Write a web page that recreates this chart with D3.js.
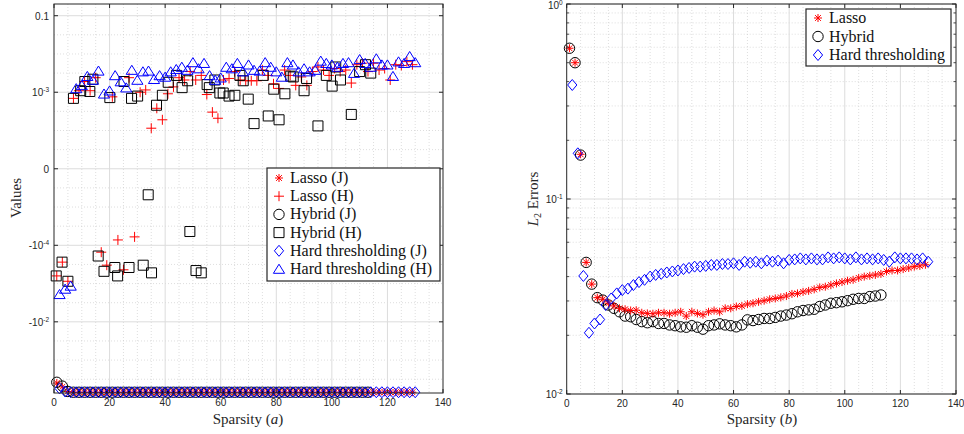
<!DOCTYPE html>
<html><head><meta charset="utf-8">
<script src="https://cdn.jsdelivr.net/npm/d3@7"></script>
<style>html,body{margin:0;padding:0;background:#fff;}svg{display:block;}</style>
</head><body><svg id="c" width="964" height="434"></svg>
<script>
// ---------------- DATA ----------------
const xTicks = [0,20,40,60,80,100,120,140];
// Left panel: values in the chart's own axis units (ticks at 2,1,0,-1,-2)
const leftTickPos = [2,1,0,-1,-2];
const leftTickLabels = [["0.1",""],["10","-3"],["0",""],["-10","-4"],["-10","-2"]];
const rightTicks = [0.01,0.1,1];
const rightTickLabels = [["10","-2"],["10","-1"],["10","0"]];

const sparsityOdd = [1,3,5,7,9,11,13,15,17,19,21,23,25,27,29,31,33,35,37,39,41,43,45,47,49,51,53,55,57,59,61,63,65,67,69,71,73,75,77,79,81,83,85,87,89,91,93,95,97,99,101,103,105,107,109,111,113,115,117,119,121,123,125,127,129];
const sparsityEven = [2,4,6,8,10,12,14,16,18,20,22,24,26,28,30,32,34,36,38,40,42,44,46,48,50,52,54,56,58,60,62,64,66,68,70,72,74,76,78,80,82,84,86,88,90,92,94,96,98,100,102,104,106,108,110,112,114,116,118,120,122,124,126,128,130];
const sparsityHybrid = [1,3,5,7,9,11,13,15,17,19,21,23,25,27,29,31,33,35,37,39,41,43,45,47,49,51,53,55,57,59,61,63,65,67,69,71,73,75,77,79,81,83,85,87,89,91,93,95,97,99,101,103,105,107,109,111,113];

// (a) values
const lassoJ = [-2.80,-2.85,-2.91,-2.92,-2.92,-2.92,-2.92,-2.92,-2.92,-2.92,-2.92,-2.92,-2.92,-2.92,-2.92,-2.92,-2.92,-2.92,-2.92,-2.92,-2.92,-2.92,-2.92,-2.92,-2.92,-2.92,-2.92,-2.92,-2.92,-2.92,-2.92,-2.92,-2.92,-2.92,-2.92,-2.92,-2.92,-2.92,-2.92,-2.92,-2.92,-2.92,-2.92,-2.92,-2.92,-2.92,-2.92,-2.92,-2.92,-2.92,-2.92,-2.92,-2.92,-2.92,-2.92,-2.92,-2.92,-2.92,-2.92,-2.92,-2.92,-2.92,-2.92,-2.92,-2.92];
const lassoH = [-1.40,-1.22,-1.47,0.92,1.02,1.14,1.02,1.19,-1.09,-1.26,0.94,-0.93,-1.32,1.19,-0.89,1.00,1.03,0.53,0.79,0.64,0.98,1.07,1.19,1.16,1.27,1.16,1.22,0.97,0.74,0.66,1.16,1.18,1.27,1.16,1.15,1.15,1.15,1.29,1.22,1.11,1.05,1.29,1.22,1.09,1.20,1.09,1.27,1.33,1.29,1.22,1.31,1.27,1.29,1.12,1.36,1.38,1.27,1.38,1.29,1.31,1.16,1.36,1.35,1.40,1.36];
const hybridJ = [-2.79,-2.84,-2.91,-2.92,-2.92,-2.92,-2.92,-2.92,-2.92,-2.92,-2.92,-2.92,-2.92,-2.92,-2.92,-2.92,-2.92,-2.92,-2.92,-2.92,-2.92,-2.92,-2.92,-2.92,-2.92,-2.92,-2.92,-2.92,-2.92,-2.92,-2.92,-2.92,-2.92,-2.92,-2.92,-2.92,-2.92,-2.92,-2.92,-2.92,-2.92,-2.92,-2.92,-2.92,-2.92,-2.92,-2.92,-2.92,-2.92,-2.92,-2.92,-2.92,-2.92,-2.92,-2.92,-2.92,-2.92];
const hybridHx = [0.8,2.9,5.0,7.0,9.6,11.1,12.9,14.0,15.9,18.0,20.1,21.9,22.9,25.2,27.0,27.9,30.1,32.1,33.9,35.1,36.9,39.0,41.1,44.1,46.1,48.1,48.9,51.1,53.0,55.1,55.9,57.9,59.7,60.9,63.0,65.1,66.9,68.1,69.9,72.0,75.3,77.1,79.1,81.0,83.1,85.2,86.1,90.0,90.9,95.0,98.0,100.1,101.4,103.1,107.0,110.0,112.1,114.0];
const hybridH = [-1.40,-1.22,-1.47,0.92,1.02,1.14,1.01,1.17,-1.14,-1.34,0.93,-1.29,-1.40,1.14,-1.29,0.92,0.95,-1.26,-0.34,-1.36,0.83,0.96,1.13,1.22,1.06,1.15,-0.82,-1.33,-1.36,1.10,1.06,1.16,0.99,0.99,0.95,0.96,1.22,1.15,0.91,0.59,1.22,0.69,1.04,0.64,0.98,1.21,1.20,1.02,1.18,0.56,1.22,1.08,1.33,1.16,0.71,1.27,1.36,1.25];
const hardJ = [-2.87,-2.91,-2.92,-2.92,-2.92,-2.92,-2.92,-2.92,-2.92,-2.92,-2.92,-2.92,-2.92,-2.92,-2.92,-2.92,-2.92,-2.92,-2.92,-2.92,-2.92,-2.92,-2.92,-2.92,-2.92,-2.92,-2.92,-2.92,-2.92,-2.92,-2.92,-2.92,-2.92,-2.92,-2.92,-2.92,-2.92,-2.92,-2.92,-2.92,-2.92,-2.92,-2.92,-2.92,-2.92,-2.92,-2.92,-2.92,-2.92,-2.92,-2.92,-2.92,-2.92,-2.92,-2.92,-2.92,-2.92,-2.92,-2.92,-2.92,-2.92,-2.92,-2.92,-2.92,-2.92];
const hardH = [-1.64,-1.57,-1.53,1.05,1.09,1.21,1.16,1.28,0.98,1.02,1.22,1.14,1.06,1.29,1.16,1.27,1.28,1.17,1.22,1.20,1.27,1.30,1.33,1.29,1.39,1.31,1.38,1.22,1.16,1.19,1.33,1.31,1.38,1.27,1.36,1.29,1.28,1.39,1.33,1.27,1.20,1.39,1.36,1.27,1.31,1.27,1.29,1.41,1.38,1.36,1.33,1.38,1.39,1.25,1.43,1.38,1.33,1.44,1.36,1.36,1.21,1.40,1.38,1.47,1.39];

// (b) L2 errors
const lassoErr = [0.593,0.500,0.1695,0.0473,0.0366,0.0312,0.0306,0.0292,0.0283,0.0275,0.0272,0.0268,0.0269,0.0261,0.0259,0.0258,0.0261,0.0261,0.0258,0.0261,0.0264,0.0251,0.0264,0.0259,0.0255,0.0264,0.0268,0.0264,0.0275,0.0275,0.0281,0.0283,0.0289,0.0292,0.0297,0.0301,0.0306,0.0309,0.0313,0.0318,0.0326,0.0328,0.0334,0.0338,0.0344,0.0352,0.0355,0.0362,0.0369,0.0375,0.0381,0.0385,0.0394,0.0400,0.0404,0.0408,0.0413,0.0425,0.0430,0.0430,0.0437,0.0443,0.0450,0.0454,0.0460];
const hybridErr = [0.593,0.500,0.168,0.0473,0.0366,0.0312,0.0303,0.0286,0.0275,0.0264,0.0251,0.0249,0.0241,0.0235,0.0232,0.0235,0.0230,0.0230,0.0226,0.0224,0.0221,0.0220,0.0224,0.0220,0.0215,0.0224,0.0226,0.0229,0.0226,0.0224,0.0221,0.0226,0.0240,0.0238,0.0241,0.0244,0.0244,0.0247,0.0251,0.0254,0.0258,0.0264,0.0268,0.0270,0.0272,0.0281,0.0286,0.0292,0.0294,0.0297,0.0301,0.0306,0.0309,0.0309,0.0316,0.0318,0.0322];
const hardErr = [0.3843,0.1715,0.0403,0.0206,0.0230,0.0241,0.0286,0.0309,0.0328,0.0341,0.0347,0.0362,0.0375,0.0385,0.0400,0.0408,0.0413,0.0420,0.0425,0.0430,0.0437,0.0443,0.0450,0.0450,0.0454,0.0459,0.0459,0.0464,0.0464,0.0468,0.0459,0.0477,0.0471,0.0477,0.0468,0.0483,0.0477,0.0483,0.0468,0.0487,0.0490,0.0496,0.0490,0.0496,0.0490,0.0490,0.0502,0.0496,0.0502,0.0496,0.0490,0.0502,0.0490,0.0496,0.0490,0.0496,0.0487,0.0477,0.0502,0.0496,0.0496,0.0496,0.0490,0.0496,0.0477];

// ---------------- DRAWING ----------------
const svg = d3.select("#c");
const AX = "#262626", MAJ = "#dcdcdc", MIN = "#c8c8c8";
const RED = "#ff0000", BLK = "#000000", BLU = "#0000ff";
const sans = "Liberation Sans, Arial, sans-serif";
const serif = "Liberation Serif, Times New Roman, serif";
const sym = {
  star: "M-4,0H4M0,-4V4M-2.9,-2.9L2.9,2.9M-2.9,2.9L2.9,-2.9",
  plus: "M-5,0H5M0,-5V5",
  square: "M-5,-5H5V5H-5Z",
  diamond: "M0,-5.5L4.6,0L0,5.5L-4.6,0Z",
  triangle: "M0,-4.8L5.6,4.3L-5.6,4.3Z"
};
function marker(g, type, color, x, y) {
  if (type === "circle") {
    g.append("circle").attr("cx", x).attr("cy", y).attr("r", 5.2)
      .attr("fill", "none").attr("stroke", color).attr("stroke-width", 1);
  } else {
    g.append("path").attr("d", sym[type]).attr("transform", `translate(${x},${y})`)
      .attr("fill", "none").attr("stroke", color).attr("stroke-width", 1);
  }
}
function series(g, xs, ys, xv, yv, type, color) {
  const gg = g.append("g");
  xv.forEach((xx, i) => marker(gg, type, color, xs(xx), ys(yv[i])));
}
function supLabel(g, x, y, parts, anchor) {
  const t = g.append("text").attr("x", x).attr("y", y).attr("text-anchor", anchor)
    .attr("font-family", sans).attr("font-size", 10).attr("fill", AX);
  t.append("tspan").text(parts[0]);
  if (parts[1]) t.append("tspan").attr("dy", -3.6).attr("font-size", 6.5).text(parts[1]);
}
function frame(g, xs, ys, x0, x1, y0, y1, yMinor, yMajor) {
  const xm = d3.range(5, 140, 5).filter(v => v % 20 !== 0);
  g.selectAll(null).data(xm).join("line").attr("x1", d => xs(d)).attr("x2", d => xs(d))
    .attr("y1", y0).attr("y2", y1).attr("stroke", MIN).attr("stroke-width", 0.6).attr("stroke-dasharray", "1,2");
  g.selectAll(null).data(yMinor).join("line").attr("y1", d => ys(d)).attr("y2", d => ys(d))
    .attr("x1", x0).attr("x2", x1).attr("stroke", MIN).attr("stroke-width", 0.6).attr("stroke-dasharray", "1,2");
  g.selectAll(null).data(xTicks.slice(1, -1)).join("line").attr("x1", d => xs(d)).attr("x2", d => xs(d))
    .attr("y1", y0).attr("y2", y1).attr("stroke", MAJ).attr("stroke-width", 1);
  g.selectAll(null).data(yMajor).join("line").attr("y1", d => ys(d)).attr("y2", d => ys(d))
    .attr("x1", x0).attr("x2", x1).attr("stroke", MAJ).attr("stroke-width", 1);
}
function box(g, xs, ys, x0, x1, y0, y1, yMajor, yMinorTicks) {
  g.append("rect").attr("x", x0).attr("y", y0).attr("width", x1 - x0).attr("height", y1 - y0)
    .attr("fill", "none").attr("stroke", AX).attr("stroke-width", 1);
  const tl = 4;
  xTicks.forEach(v => {
    const x = xs(v);
    g.append("line").attr("x1", x).attr("x2", x).attr("y1", y1).attr("y2", y1 - tl).attr("stroke", AX);
    g.append("line").attr("x1", x).attr("x2", x).attr("y1", y0).attr("y2", y0 + tl).attr("stroke", AX);
  });
  yMajor.forEach(v => {
    const y = ys(v);
    g.append("line").attr("x1", x0).attr("x2", x0 + tl).attr("y1", y).attr("y2", y).attr("stroke", AX);
    g.append("line").attr("x1", x1).attr("x2", x1 - tl).attr("y1", y).attr("y2", y).attr("stroke", AX);
  });
  (yMinorTicks || []).forEach(v => {
    const y = ys(v);
    g.append("line").attr("x1", x0).attr("x2", x0 + 2.5).attr("y1", y).attr("y2", y).attr("stroke", AX).attr("stroke-width", 0.8);
    g.append("line").attr("x1", x1).attr("x2", x1 - 2.5).attr("y1", y).attr("y2", y).attr("stroke", AX).attr("stroke-width", 0.8);
  });
  xTicks.forEach(v => {
    g.append("text").attr("x", xs(v)).attr("y", y1 + 13).attr("text-anchor", "middle")
      .attr("font-family", sans).attr("font-size", 10).attr("fill", AX).text(v);
  });
}
function legend(g, x, y, w, h, rows, rowY0, dy) {
  g.append("rect").attr("x", x).attr("y", y).attr("width", w).attr("height", h)
    .attr("fill", "#fff").attr("stroke", AX).attr("stroke-width", 1.2);
  rows.forEach((r, i) => {
    const cy = rowY0 + i * dy;
    marker(g, r.type, r.color, x + 12, cy);
    g.append("text").attr("x", x + 23).attr("y", cy + 5)
      .attr("font-family", serif).attr("font-size", 16).attr("fill", "#111").text(r.label);
  });
}
function xLabel(g, cx, letter) {
  const xl = g.append("text").attr("x", cx).attr("y", 424).attr("text-anchor", "middle")
    .attr("font-family", serif).attr("font-size", 15).attr("fill", AX);
  xl.append("tspan").text("Sparsity (");
  xl.append("tspan").attr("font-style", "italic").text(letter);
  xl.append("tspan").text(")");
}

// ----- Left panel -----
{
  const x0 = 54, x1 = 443, y0 = 4, y1 = 393;
  const xs = d3.scaleLinear().domain([0, 140]).range([x0, x1]);
  const ys = d3.scaleLinear().domain([-2.93, 2.153]).range([y1, y0]);
  const g = svg.append("g");
  const yMinor = d3.range(-2.75, 2.01, 0.25).filter(v => Math.abs(v - Math.round(v)) > 0.01);
  frame(g, xs, ys, x0, x1, y0, y1, yMinor, leftTickPos);
  series(g, xs, ys, sparsityOdd, lassoJ, "star", RED);
  series(g, xs, ys, sparsityOdd, lassoH, "plus", RED);
  series(g, xs, ys, sparsityHybrid, hybridJ, "circle", BLK);
  series(g, xs, ys, hybridHx, hybridH, "square", BLK);
  series(g, xs, ys, sparsityEven, hardJ, "diamond", BLU);
  series(g, xs, ys, sparsityEven, hardH, "triangle", BLU);
  box(g, xs, ys, x0, x1, y0, y1, leftTickPos);
  leftTickPos.forEach((v, i) => supLabel(g, x0 - 5, ys(v) + 3.8, leftTickLabels[i], "end"));
  g.append("text").attr("transform", "translate(21,198) rotate(-90)").attr("text-anchor", "middle")
    .attr("font-family", serif).attr("font-size", 15).attr("fill", AX).text("Values");
  xLabel(g, 248, "a");
  legend(g, 267, 168, 173, 113, [
    {type: "star", color: RED, label: "Lasso (J)"},
    {type: "plus", color: RED, label: "Lasso (H)"},
    {type: "circle", color: BLK, label: "Hybrid (J)"},
    {type: "square", color: BLK, label: "Hybrid (H)"},
    {type: "diamond", color: BLU, label: "Hard thresholding (J)"},
    {type: "triangle", color: BLU, label: "Hard thresholding (H)"}
  ], 178, 18.2);
}

// ----- Right panel -----
{
  const x0 = 566.7, x1 = 956, y0 = 4, y1 = 394;
  const xs = d3.scaleLinear().domain([0, 140]).range([x0, x1]);
  const ys = d3.scaleLog().domain([0.01, 1]).range([y1, y0]);
  const g = svg.append("g");
  const yMinor = [];
  [0.01, 0.1].forEach(d => { for (let k = 2; k <= 9; k++) yMinor.push(d * k); });
  frame(g, xs, ys, x0, x1, y0, y1, yMinor, rightTicks);
  series(g, xs, ys, sparsityHybrid, hybridErr, "circle", BLK);
  series(g, xs, ys, sparsityOdd, lassoErr, "star", RED);
  series(g, xs, ys, sparsityEven, hardErr, "diamond", BLU);
  box(g, xs, ys, x0, x1, y0, y1, rightTicks, yMinor);
  rightTicks.forEach((v, i) => supLabel(g, x0 - 4, Math.max(ys(v) + 3.8, 9), rightTickLabels[i], "end"));
  const yl = g.append("text").attr("transform", "translate(538,199) rotate(-90)").attr("text-anchor", "middle")
    .attr("font-family", serif).attr("font-size", 15).attr("fill", AX);
  yl.append("tspan").attr("font-style", "italic").text("L");
  yl.append("tspan").attr("font-size", 10).attr("dy", 3).text("2");
  yl.append("tspan").attr("dy", -3).text(" Errors");
  xLabel(g, 762, "b");
  legend(g, 806, 9, 145, 57, [
    {type: "star", color: RED, label: "Lasso"},
    {type: "circle", color: BLK, label: "Hybrid"},
    {type: "diamond", color: BLU, label: "Hard thresholding"}
  ], 18, 18.5);
}
</script></body></html>
